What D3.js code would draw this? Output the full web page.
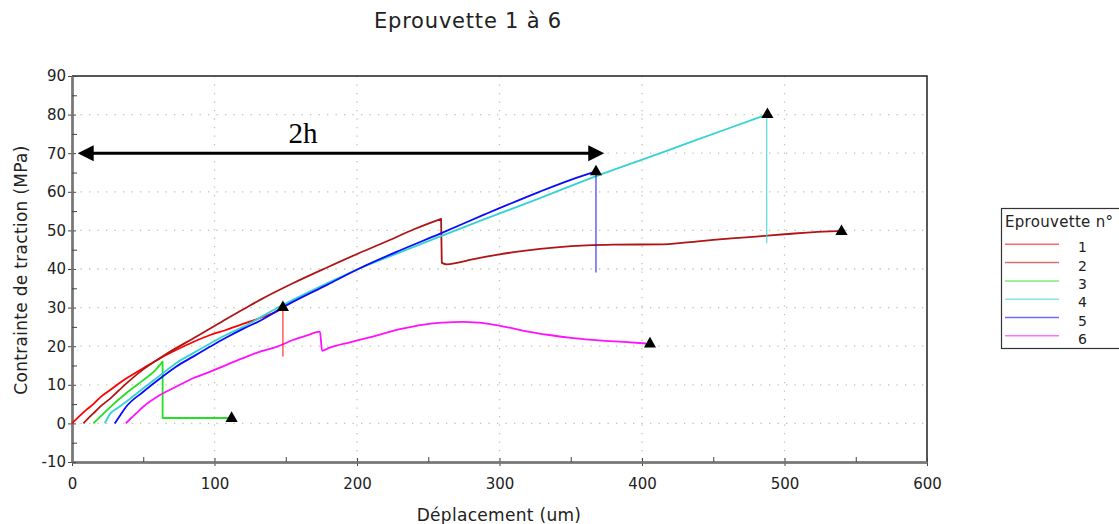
<!DOCTYPE html>
<meta charset="utf-8">
<style>
  body { margin: 0; background: #fff; }
  svg text { font-family: "DejaVu Sans", Verdana, sans-serif; fill: #222; }
  .title { font-size: 21px; letter-spacing: 0.8px; }
  .axisTitle { font-size: 17px; letter-spacing: 0.3px; }
  .tick text { font-size: 15px; font-family: "DejaVu Sans", Verdana, sans-serif; fill: #222; }
  .legendText { font-size: 15px; letter-spacing: 0.3px; }
  .legendNum { font-size: 14px; }
</style>
<svg id="chart" width="1119" height="524"></svg>
<script src="https://cdn.jsdelivr.net/npm/d3@7/dist/d3.min.js"></script>
<script>

// ---- data ----
var xTicks = [0, 100, 200, 300, 400, 500, 600];
var yTicks = [-10, 0, 10, 20, 30, 40, 50, 60, 70, 80, 90];

var series = ["1", "2", "3", "4", "5", "6"];
var colors = ["#ff0000", "#b01515", "#22e022", "#33d3d3", "#0a0aff", "#ff10ff"];

var s1 = [[0,0],[5,1.8],[10,3.5],[15,5],[20,6.8],[27,8.7],[38,11.6],[50,14.3],[62,16.9],[73,19],[85,21.1],
  [97,22.9],[108,24.2],[120,25.8],[132,27.3],[143,28.9],[148,29.8]];
var s2 = [[8,0],[11,1.2],[15,2.6],[20,4.4],[27,6.5],[38,10.3],[50,14],[62,17],[73,19.5],[85,22],[97,24.6],
  [108,27],[120,29.5],[132,32],[155,36.3],[179,40.4],[202,44.2],[223,47.5],[240,50.3],[259,53],
  [259.5,41.6],[263,41.2],[270,41.6],[281,42.5],[300,43.8],[317,44.7],[340,45.6],[361,46.1],[380,46.3],
  [415,46.4],[443,47.3],[465,48],[480,48.4],[500,49],[527,49.7],[538,49.8]];
var s3 = [[15,0],[20,1.8],[27,4.3],[38,7.8],[50,11.2],[58,13.6],[63.6,16],[63.6,1.4],[112,1.4]];
var s4 = [[23,0],[27,2.6],[32,4],[38,5.6],[50,9.1],[62,12.5],[73,15.6],[85,18.2],[97,20.7],[108,22.9],
  [120,25],[132,27.4],[143,29.7],[155,32],[179,36.3],[202,40.2],[230,44.3],[258,48.4],[290,53],
  [328,58.3],[366,63.8],[412,69.9],[459,76.2],[487.5,80]];
var s5 = [[30,0],[34,2.2],[38,4.3],[50,8.2],[62,11.7],[73,14.7],[85,17.3],[97,19.9],[108,22.2],[120,24.5],
  [132,26.6],[151,30.7],[179,35.9],[202,40.2],[230,44.8],[258,49.1],[290,54.2],[328,60],[350,63.1],[367.7,65.3]];
var s6 = [[37.7,0],[41,1.2],[45,2.6],[50,4.3],[62,7.4],[73,9.5],[85,11.7],[97,13.4],[108,15.1],[120,16.9],
  [132,18.6],[144,19.9],[155,21.6],[165,22.8],[174,23.8],[175.5,18.8],[180,19.5],[195,21],[211,22.5],
  [230,24.4],[247,25.6],[260,26.1],[275,26.3],[290,25.9],[303,25.1],[317,24],[335,22.9],[352,22.1],
  [370,21.5],[387,21.1],[403,20.7]];
var curves = [s1, s2, s3, s4, s5, s6];

// rupture drops (thin vertical lines) : [x, yTop, yBottom, series index]
var drops = [[148, 29.8, 17.3, 0], [367.7, 65.3, 39.1, 4], [487.5, 80, 46.7, 3]];
// end markers (black triangles)
var markers = [[112, 1.3], [148, 30], [367.7, 65.2], [488, 80], [540, 49.7], [405.6, 20.6]];

// "2h" dimension arrow
var arrowX = [4, 373.5];
var arrowY = 70;
var arrowLabel = "2h";

// ---- chart ----
var svg = d3.select("#chart");
var x = d3.scaleLinear().domain([0, 600]).range([72, 927]);
var y = d3.scaleLinear().domain([-10, 90]).range([462, 76]);

// grid
var grid = svg.append("g");
grid.selectAll("line.gx").data(xTicks.filter(function(d) { return d > 0 && d < 600; }))
  .enter().append("line")
    .attr("x1", function(d) { return x(d); }).attr("x2", function(d) { return x(d); })
    .attr("y1", y(90)).attr("y2", y(-10))
    .attr("stroke", "#c4c0aa").attr("stroke-width", 1.3).attr("stroke-dasharray", "1.3,7.2");
grid.selectAll("line.gy").data(yTicks.filter(function(d) { return d > -10 && d < 90; }))
  .enter().append("line")
    .attr("y1", function(d) { return y(d); }).attr("y2", function(d) { return y(d); })
    .attr("x1", x(0)).attr("x2", x(600))
    .attr("stroke", "#c4c0aa").attr("stroke-width", 1.3).attr("stroke-dasharray", "1.3,7.2");

// frame top / right
svg.append("path")
  .attr("d", "M" + x(0) + "," + y(90) + "H" + x(600) + "V" + y(-10))
  .attr("fill", "none").attr("stroke", "#222").attr("stroke-width", 1.5);

// axes
var minorX = d3.range(50, 600, 100);
var minorY = d3.range(-5, 90, 10);
var plain = function(d) { return String(d); };

var gx = svg.append("g").attr("transform", "translate(0," + y(-10) + ")");
gx.call(d3.axisBottom(x).tickValues(xTicks).tickFormat(plain).tickSize(4).tickPadding(12).tickSizeOuter(0));
gx.append("g").call(d3.axisTop(x).tickValues(xTicks).tickSize(4).tickFormat("").tickSizeOuter(0));
gx.append("g").call(d3.axisTop(x).tickValues(minorX).tickSize(5).tickFormat("").tickSizeOuter(0));
gx.selectAll("path.domain").attr("stroke", "#777").attr("stroke-width", 2);
gx.selectAll(".tick line").attr("stroke", "#444");

var gy = svg.append("g").attr("transform", "translate(" + x(0) + ",0)");
gy.call(d3.axisLeft(y).tickValues(yTicks).tickFormat(plain).tickSize(4).tickPadding(2).tickSizeOuter(0));
gy.append("g").call(d3.axisRight(y).tickValues(yTicks).tickSize(4).tickFormat("").tickSizeOuter(0));
gy.append("g").call(d3.axisRight(y).tickValues(minorY).tickSize(5).tickFormat("").tickSizeOuter(0));
gy.selectAll("path.domain").attr("stroke", "#777").attr("stroke-width", 2);
gy.selectAll(".tick line").attr("stroke", "#444");

// curves: smooth between drops, straight across a drop (same x, big fall)
var smooth = d3.line()
  .x(function(d) { return x(d[0]); })
  .y(function(d) { return y(d[1]); })
  .curve(d3.curveMonotoneX);

function curvePath(pts) {
  var segs = [[pts[0]]];
  for (var i = 1; i < pts.length; i++) {
    if (pts[i][0] - pts[i - 1][0] < 1) segs.push([]);
    segs[segs.length - 1].push(pts[i]);
  }
  var d = "";
  segs.forEach(function(s, k) {
    var p = s.length > 1 ? smooth(s) : "M" + x(s[0][0]) + "," + y(s[0][1]);
    d += k === 0 ? p : "L" + p.slice(1);
  });
  return d;
}

svg.append("g").selectAll("path").data(curves).enter().append("path")
  .attr("fill", "none")
  .attr("stroke", function(d, i) { return colors[i]; })
  .attr("stroke-width", 1.8)
  .attr("stroke-linejoin", "round")
  .attr("d", curvePath);

svg.append("g").selectAll("line").data(drops).enter().append("line")
  .attr("x1", function(d) { return x(d[0]); }).attr("x2", function(d) { return x(d[0]); })
  .attr("y1", function(d) { return y(d[1]); }).attr("y2", function(d) { return y(d[2]); })
  .attr("stroke", function(d) { return colors[d[3]]; })
  .attr("stroke-opacity", 0.75)
  .attr("stroke-width", 1.3);

svg.append("g").selectAll("path").data(markers).enter().append("path")
  .attr("transform", function(d) { return "translate(" + x(d[0]) + "," + y(d[1]) + ")"; })
  .attr("d", d3.symbol().type(d3.symbolTriangle).size(64))
  .attr("fill", "#000");

// arrow 2h
var ax0 = x(arrowX[0]), ax1 = x(arrowX[1]), ay = y(arrowY);
svg.append("line")
  .attr("x1", ax0 + 10).attr("x2", ax1 - 10).attr("y1", ay).attr("y2", ay)
  .attr("stroke", "#000").attr("stroke-width", 3);
svg.append("path")
  .attr("d", "M" + ax0 + "," + ay + "L" + (ax0 + 16) + "," + (ay - 8) + "L" + (ax0 + 16) + "," + (ay + 8) + "Z")
  .attr("fill", "#000");
svg.append("path")
  .attr("d", "M" + ax1 + "," + ay + "L" + (ax1 - 16) + "," + (ay - 8) + "L" + (ax1 - 16) + "," + (ay + 8) + "Z")
  .attr("fill", "#000");
svg.append("text")
  .attr("x", 303).attr("y", 143)
  .attr("text-anchor", "middle")
  .style("font-family", "'Liberation Serif', 'Times New Roman', serif")
  .style("font-size", "29px")
  .style("fill", "#000")
  .text(arrowLabel);

// titles
svg.append("text").attr("class", "title")
  .attr("x", 468).attr("y", 28).attr("text-anchor", "middle")
  .text("Eprouvette 1 à 6");
svg.append("text").attr("class", "axisTitle")
  .attr("x", 499).attr("y", 521).attr("text-anchor", "middle")
  .text("Déplacement (um)");
svg.append("text").attr("class", "axisTitle")
  .attr("transform", "translate(27,270) rotate(-90)")
  .attr("text-anchor", "middle")
  .text("Contrainte de traction (MPa)");

// legend
var legend = svg.append("g");
legend.append("rect")
  .attr("x", 1001.5).attr("y", 208.5).attr("width", 140).attr("height", 140)
  .attr("fill", "#fff").attr("stroke", "#333").attr("stroke-width", 1.2);
legend.append("text").attr("class", "legendText")
  .attr("x", 1005).attr("y", 227).text("Eprouvette n°");
var items = legend.selectAll("g.item").data(series).enter().append("g")
  .attr("transform", function(d, i) { return "translate(0," + (244.3 + i * 18.3) + ")"; });
items.append("line")
  .attr("x1", 1005).attr("x2", 1059).attr("y1", 0).attr("y2", 0)
  .attr("stroke", function(d, i) { return colors[i]; })
  .attr("stroke-opacity", 0.6)
  .attr("stroke-width", 1.5);
items.append("text").attr("class", "legendNum")
  .attr("x", 1082.5).attr("y", 8).attr("text-anchor", "middle")
  .text(function(d) { return d; });

</script>
